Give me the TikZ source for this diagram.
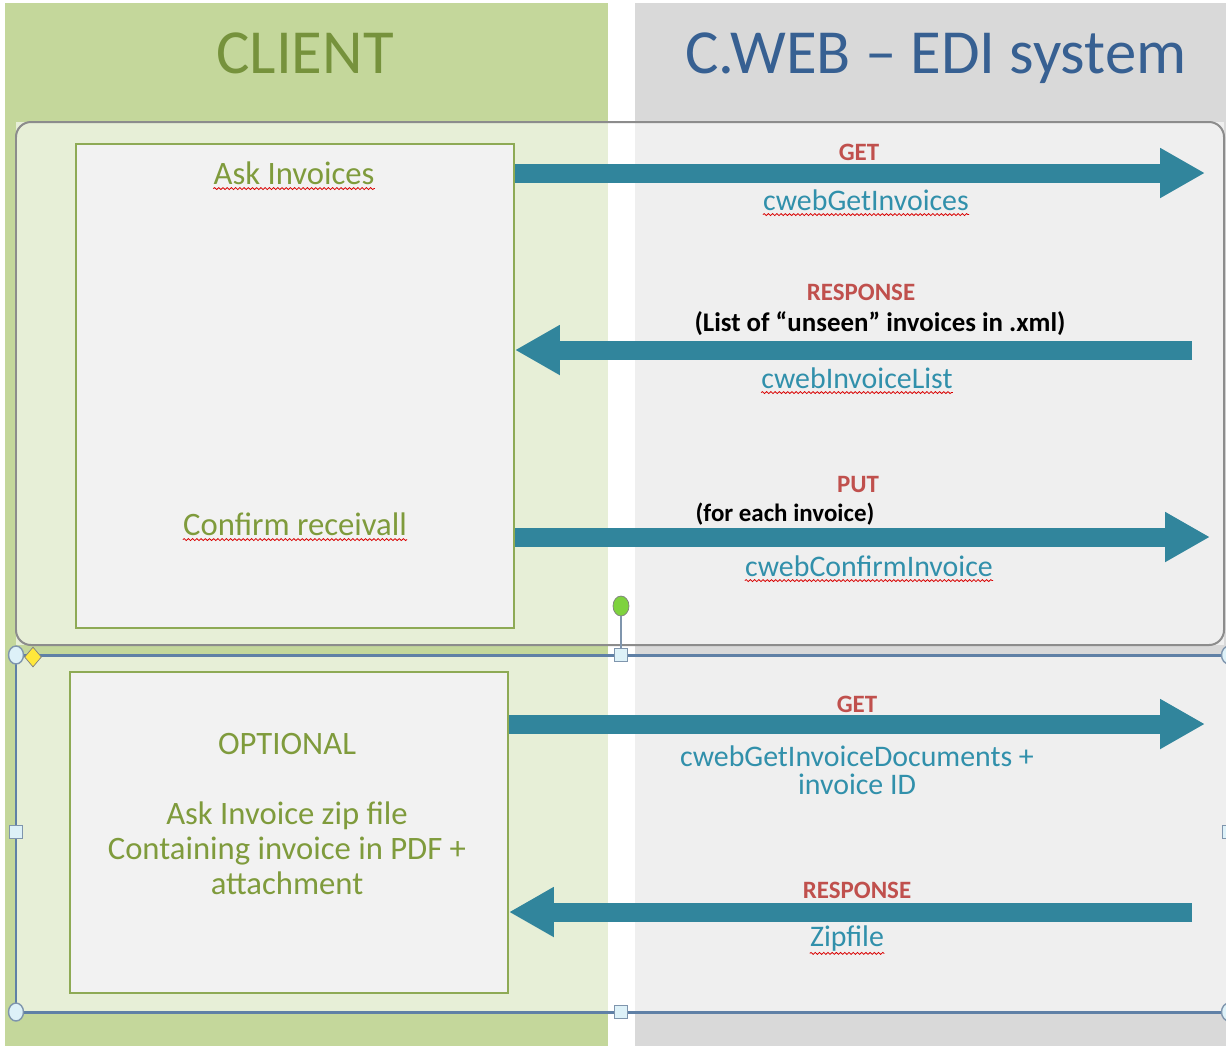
\documentclass[tikz,border=0pt]{standalone}
\usepackage{fontspec}
\setmainfont{Carlito}
\usetikzlibrary{arrows.meta,decorations.pathmorphing,shapes.geometric}
\definecolor{colgreen}{HTML}{C4D79B}
\definecolor{colgray}{HTML}{D9D9D9}
\definecolor{boxborder}{HTML}{8EAA55}
\definecolor{boxfill}{HTML}{F2F2F2}
\definecolor{hdgreen}{HTML}{76923C}
\definecolor{hdblue}{HTML}{376092}
\definecolor{txtgreen}{HTML}{7F9B3C}
\definecolor{arrowteal}{HTML}{31859C}
\definecolor{calltxt}{HTML}{3190AB}
\definecolor{lblred}{HTML}{C0504D}
\definecolor{selblue}{HTML}{5F80A6}
\definecolor{framegray}{HTML}{8C8C8C}
\definecolor{handlefill}{HTML}{DDF1F8}
\definecolor{handledraw}{HTML}{7F95AD}
\definecolor{rotgreen}{HTML}{7ED23E}
\definecolor{diayellow}{HTML}{FFE83B}
\tikzset{
  hdr/.style={inner sep=0, anchor=base, font=\fontsize{35.7}{40}\selectfont},
  boxtxt/.style={inner sep=0, anchor=base, text=txtgreen, font=\fontsize{18.6}{19.85}\selectfont},
  method/.style={inner sep=0, anchor=base, text=lblred, font=\bfseries\fontsize{14.2}{16}\selectfont},
  call/.style={inner sep=0, anchor=base, text=calltxt, font=\fontsize{17}{16.4}\selectfont},
  note/.style={inner sep=0, anchor=base, text=black, font=\bfseries\fontsize{15.3}{18}\selectfont},
  clientbox/.style={draw=boxborder, fill=boxfill, line width=0.04cm, minimum width=8.76cm, inner sep=0},
  bigarrow/.style={draw=arrowteal, line width=0.38cm, -{Triangle[length=0.9cm,width=0.94cm]}, arrowteal},
  squig/.style={draw=red!85!black, line width=0.45pt, decorate, decoration={snake, amplitude=0.55pt, segment length=2.4pt}},
  container/.style={fill=white, fill opacity=0.6},
  handlecirc/.style={ellipse, draw=handledraw, fill=handlefill, line width=0.8pt, minimum width=0.3cm, minimum height=0.36cm, inner sep=0},
  handlesq/.style={rectangle, draw=handledraw, fill=handlefill, line width=0.8pt, minimum size=0.26cm, inner sep=0},
}
\begin{document}
\begin{tikzpicture}[x=0.02cm,y=-0.02cm]
\useasboundingbox (0,0) rectangle (1226,1046);
\fill[white] (0,0) rectangle (1226,1046);
% swim lanes
\fill[colgreen] (5,3) rectangle (608,1046);
\fill[colgray] (635,3) rectangle (1226,1046);
\node[hdr, text=hdgreen] (client) at (305,73) {CLIENT};
\node[hdr, text=hdblue] (cweb) at (936,73) {C.WEB – EDI system};
% top container
\path[container] (16,122) rectangle (1224,645);
\draw[framegray, line width=0.04cm, rounded corners=0.3cm] (16,122) rectangle (1224,645);
% bottom container (selected)
\path[container] (16,655) rectangle (1229,1012);
\draw[selblue, line width=0.06cm] (16,655) rectangle (1229,1012);
% client boxes
\node[clientbox, minimum height=9.68cm] (askbox) at (295,386) {};
\node[clientbox, minimum height=6.42cm] (optbox) at (289,832.5) {};
\node[boxtxt] (ask) at (294,184) {Ask Invoices};
\node[boxtxt] (confirm) at (295,535) {Confirm receivall};
\node[inner sep=0, anchor=north, align=center, text=txtgreen, font=\fontsize{18.6}{19.85}\selectfont] (opt) at (287,733)
  {OPTIONAL\\[19.85pt]Ask Invoice zip file\\Containing invoice in PDF +\\attachment};
% arrow end points
\coordinate (e1) at (1205,173);
\coordinate (s2) at (1192,350);
\coordinate (e3) at (1210,537);
\coordinate (e4) at (1205,724);
\coordinate (s5) at (1192,912);
\draw[bigarrow] (askbox.east |- e1) -- (e1);
\draw[bigarrow] (s2) -- (askbox.east |- s2);
\draw[bigarrow] (askbox.east |- e3) -- (e3);
\draw[bigarrow] (optbox.east |- e4) -- (e4);
\draw[bigarrow] (s5) -- (optbox.east |- s5);
% labels
\node[method] (get1) at (859,160) {GET};
\node[call] (c1) at (866,210) {cwebGetInvoices};
\node[method] (resp1) at (861,300) {RESPONSE};
\node[note] (n1) at (880,331) {(List of “unseen” invoices in .xml)};
\node[call] (c2) at (857,388) {cwebInvoiceList};
\node[method] (put) at (858,492) {PUT};
\node[note, font=\bfseries\fontsize{14.2}{16}\selectfont] (n2) at (785,521) {(for each invoice)};
\node[call] (c3) at (869,576) {cwebConfirmInvoice};
\node[method] (get2) at (857,712) {GET};
\node[call, anchor=north, align=center] (c4) at (857,745) {cwebGetInvoiceDocuments +\\invoice ID};
\node[method] (resp2) at (857,898) {RESPONSE};
\node[call] (c5) at (847,946) {Zipfile};
% spelling squiggles
\foreach \n in {ask,confirm,c1,c2,c3}
  \draw[squig] ([yshift=-2.6pt]\n.base west) -- ([yshift=-2.6pt]\n.base east);
\draw[squig] ([yshift=-4.2pt]c5.base west) -- ([yshift=-4.2pt]c5.base east);
% selection handles
\coordinate (rotbase) at (621,649);
\node[ellipse, draw=gray, fill=rotgreen, minimum width=0.32cm, minimum height=0.4cm, inner sep=0] (rot) at (621,606) {};
\draw[handledraw, line width=0.8pt] (rot.south) -- (rotbase);
\node[handlecirc] (h1) at (16,655) {};
\node[handlecirc] (h2) at (16,1012) {};
\node[handlecirc] (h3) at (1229,655) {};
\node[handlecirc] (h4) at (1229,1012) {};
\node[handlesq] (q1) at (621,655) {};
\node[handlesq] (q2) at (621,1012) {};
\node[handlesq] (q3) at (16,832) {};
\node[handlesq] (q4) at (1229,832) {};
\node[diamond, draw=gray, fill=diayellow, minimum width=0.34cm, minimum height=0.4cm, inner sep=0, line width=0.4pt] (adj) at (33,657) {};
\end{tikzpicture}
\end{document}
